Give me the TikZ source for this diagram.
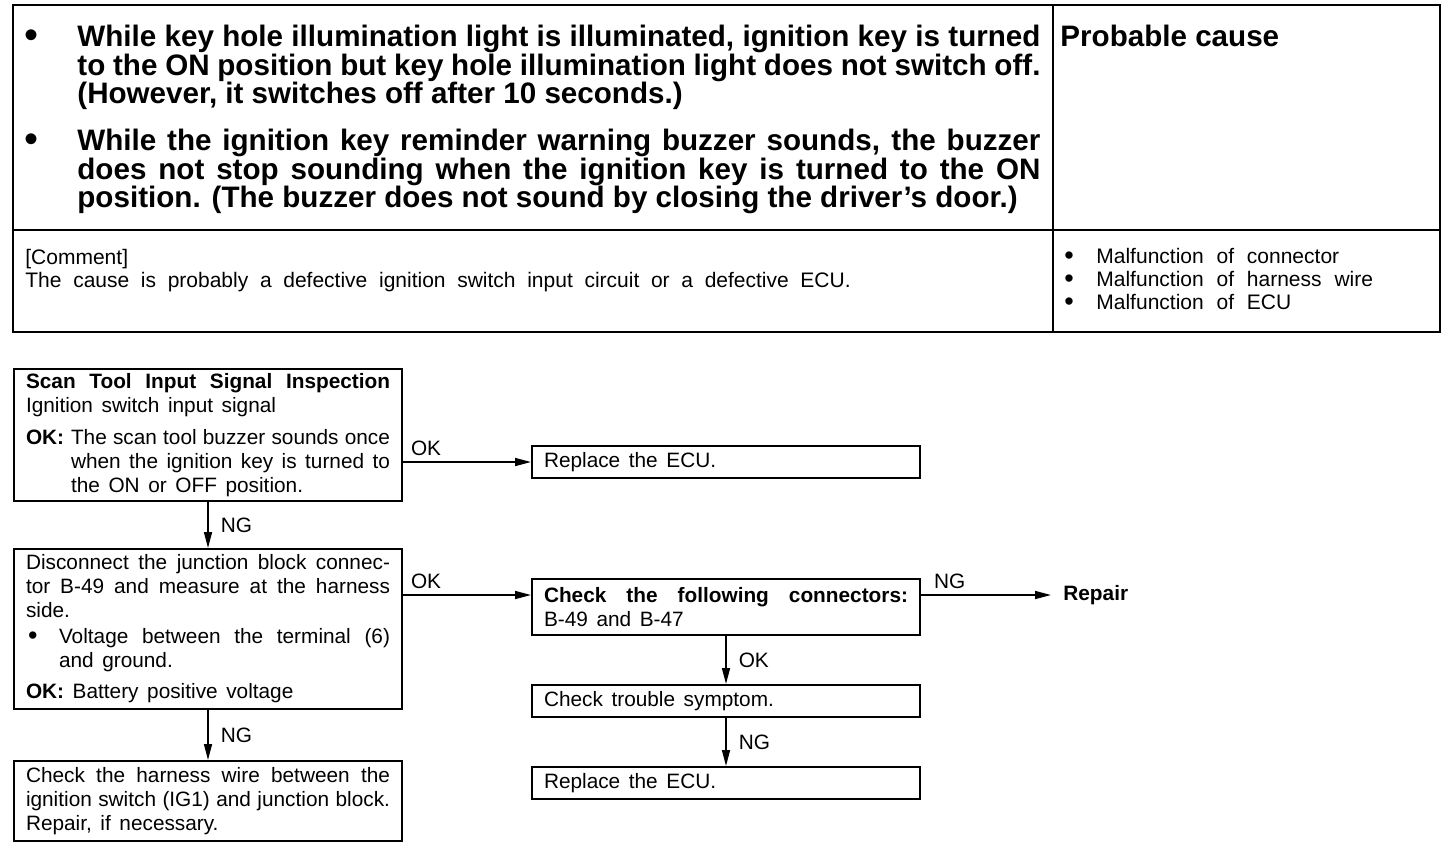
\documentclass[tikz,border=0pt]{standalone}
\usepackage{fontspec}
\setmainfont{Liberation Sans}
\usetikzlibrary{arrows.meta}
\newcommand\flowf{\fontsize{10.4}{12}\selectfont}
\newcommand\cmtf{\fontsize{10.5}{11.5}\selectfont}
\newcommand\hdrf{\bfseries\fontsize{14.8}{14.25}\selectfont}
\newcommand\nsp{\spaceskip=0pt\xspaceskip=0pt\relax}
\newcommand\setsp[1]{\spaceskip=#1 plus 1.5pt minus 0.8pt\xspaceskip=\spaceskip\relax}
\newcommand\jl[1]{\makebox[\hsize][s]{\nsp #1}}
\newcommand\jlw[2]{\makebox[\dimexpr\hsize-#1\relax][s]{\nsp #2}}
\newcommand\bigbul[2]{\smash{\raisebox{-#2}{\mdseries\fontsize{#1}{#1}\selectfont •}}}
\begin{document}
\begin{tikzpicture}[x=0.5pt,y=-0.5pt,
  box/.style={draw, line width=1pt, inner xsep=6pt, inner ysep=0pt, text width=182pt, align=left, anchor=north west, font=\flowf, execute at begin node={\setsp{4.3pt}}},
  lab/.style={font=\flowf, inner sep=1pt},
  arr/.style={line width=0.8pt, -{Triangle[length=8pt,width=4pt]}},
  tbl/.style={line width=1pt},
  hdr/.style={inner sep=0pt, anchor=north west, align=left, font=\hdrf, execute at begin node=\nsp},
  cmt/.style={inner sep=0pt, anchor=north west, align=left, font=\cmtf}]
\useasboundingbox (0,0) rectangle (1456,848);
% table
\draw[tbl, line width=1.1pt] (13,5) rectangle (1440,332);
\draw[tbl] (13,230) -- (1440,230);
\draw[tbl] (1053,5) -- (1053,332);
\node[hdr, text width=508pt] (sym) at (24,25) {%
\makebox[26.5pt][l]{\bigbul{20}{1pt}}\jlw{26.5pt}{While key hole illumination light is illuminated, ignition key is turned}\\
\hspace*{26.5pt}\jlw{26.5pt}{to the ON position but key hole illumination light does not switch off.}\\
\hspace*{26.5pt}(However, it switches off after 10 seconds.)\\[9.25pt]
\makebox[26.5pt][l]{\bigbul{20}{1pt}}\jlw{26.5pt}{While the ignition key reminder warning buzzer sounds, the buzzer}\\
\hspace*{26.5pt}\jlw{26.5pt}{does not stop sounding when the ignition key is turned to the ON}\\
\hspace*{26.5pt}position. (The buzzer does not sound by closing the driver’s door.)};
\node[hdr] (pc) at (1060,25) {Probable cause};
\node[cmt, text width=500pt, execute at begin node={\setsp{5.84pt}}] (cm) at (25,249) {[Comment]\\
The cause is probably a defective ignition switch input circuit or a defective ECU.};
\node[cmt, text width=180pt, execute at begin node={\setsp{6.42pt}}] (causes) at (1064,248) {%
\makebox[16pt][l]{\bigbul{13.5}{0.5pt}}Malfunction of connector\\
\makebox[16pt][l]{\bigbul{13.5}{0.5pt}}Malfunction of harness wire\\
\makebox[16pt][l]{\bigbul{13.5}{0.5pt}}Malfunction of ECU};
% flow boxes
\node[box, minimum height=66pt] (b1) at (13,368) {%
\jl{\bfseries Scan Tool Input Signal Inspection}\\
Ignition switch input signal\\[4pt]
\makebox[22.5pt][l]{\bfseries OK:}\jlw{22.5pt}{The scan tool buzzer sounds once}\\
\hspace*{22.5pt}\jlw{22.5pt}{when the ignition key is turned to}\\
\hspace*{22.5pt}the ON or OFF position.};
\node[box, minimum height=80pt] (b2) at (13,548) {%
\jl{Disconnect the junction block connec-}\\
\jl{tor B-49 and measure at the harness}\\
side.\\[1pt]
\makebox[16.5pt][l]{\hspace{1pt}\bigbul{13.5}{0.5pt}}\jlw{16.5pt}{Voltage between the terminal (6)}\\
\hspace*{16.5pt}and ground.\\[3.5pt]
{\bfseries OK:} Battery positive voltage};
\node[box, minimum height=40pt] (b3) at (13,760) {%
\jl{Check the harness wire between the}\\
\jl{ignition switch (IG1) and junction block.}\\
Repair, if necessary.};
\node[box, minimum height=16pt] (r1) at (531,445) {Replace the ECU.};
\node[box, minimum height=28pt] (c1) at (531,578) {%
\jl{\bfseries Check the following connectors:}\\
B-49 and B-47};
\node[box, minimum height=16pt] (t1) at (531,684) {Check trouble symptom.};
\node[box, minimum height=16pt] (r2) at (531,766) {Replace the ECU.};
\node[font={\flowf\bfseries}, anchor=west, inner sep=6pt] (rep) at (1051,595) {Repair};
% connectors
\draw[arr] (r1.west -| b1.east) -- (r1.west) node[lab, pos=0.18, above=2pt] {OK};
\draw[arr] (b1.south) -- (b2.north) node[lab, midway, right=5pt] {NG};
\draw[arr] ([yshift=6pt]c1.west -| b2.east) -- ([yshift=6pt]c1.west) node[lab, pos=0.18, above=2pt] {OK};
\draw[arr] ([yshift=6pt]c1.east) -- ([yshift=6pt]c1.east -| rep.west) node[lab, pos=0.22, above=2pt] {NG};
\draw[arr] (b2.south) -- (b3.north) node[lab, midway, right=5pt] {NG};
\draw[arr] (c1.south) -- (t1.north) node[lab, midway, right=5pt] {OK};
\draw[arr] (t1.south) -- (r2.north) node[lab, midway, right=5pt] {NG};
\end{tikzpicture}
\end{document}
